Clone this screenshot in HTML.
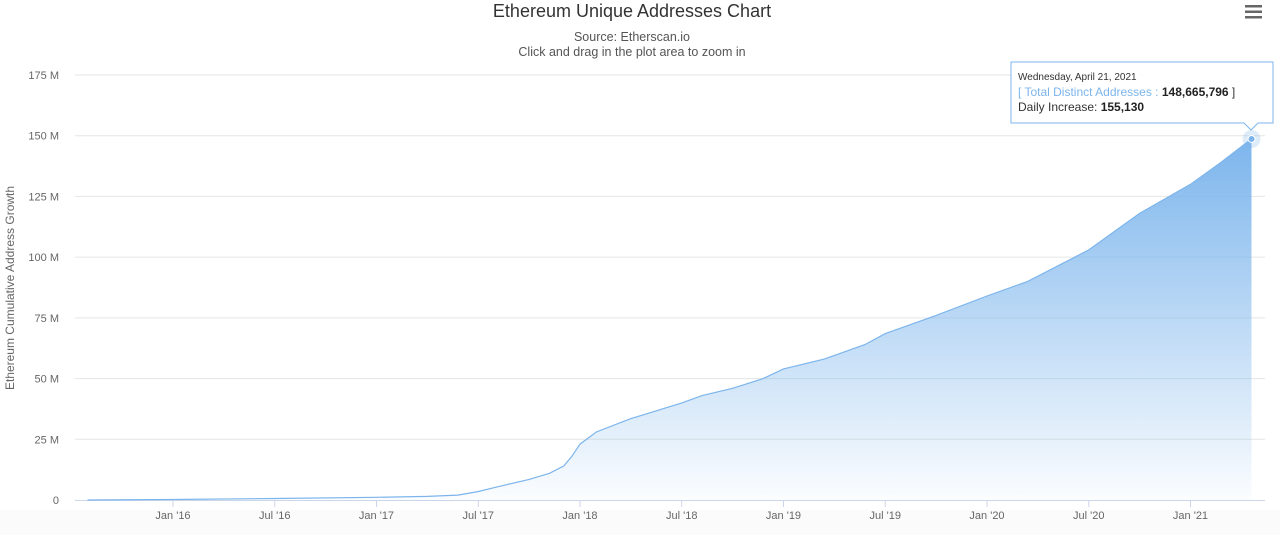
<!DOCTYPE html>
<html><head><meta charset="utf-8">
<style>
body{margin:0;background:#fff;font-family:"Liberation Sans",sans-serif;}
svg{display:block}
</style></head>
<body>
<svg id="chart" width="1280" height="535" viewBox="0 0 1280 535" xmlns="http://www.w3.org/2000/svg">
<defs>
<linearGradient id="fillGrad" x1="0" y1="0" x2="0" y2="1">
<stop offset="0" stop-color="#7cb5ec" stop-opacity="1"/>
<stop offset="1" stop-color="#7cb5ec" stop-opacity="0.03"/>
</linearGradient>
</defs>
<rect x="0" y="510" width="1280" height="25" fill="#fbfbfb"/>
<text x="632" y="17" text-anchor="middle" font-size="18" fill="#333">Ethereum Unique Addresses Chart</text>
<text x="632" y="41" text-anchor="middle" font-size="12.5" fill="#555">Source: Etherscan.io</text>
<text x="632" y="56" text-anchor="middle" font-size="12.5" fill="#555">Click and drag in the plot area to zoom in</text>
<g fill="#666">
<rect x="1245" y="5" width="17" height="2.5"/><rect x="1245" y="10.5" width="17" height="2.5"/><rect x="1245" y="16" width="17" height="2.5"/>
</g>
<g id="grid"></g>
<g id="yaxis"></g>
<g id="xaxis"></g>
<text transform="translate(14,288) rotate(-90)" text-anchor="middle" font-size="12" fill="#666">Ethereum Cumulative Address Growth</text>
<g id="series"></g>
<g>
<path d="M1011,62 H1273 V123 H1258 L1251,130 L1244,123 H1011 Z" fill="#fff" fill-opacity="0.95" stroke="#7cb5ec" stroke-width="1"/>
<text x="1018" y="80" font-size="10" fill="#333">Wednesday, April 21, 2021</text>
<text x="1018" y="96" font-size="12" fill="#333"><tspan fill="#7cb5ec">[ Total Distinct Addresses</tspan><tspan fill="#7cb5ec"> : </tspan><tspan font-weight="bold" fill="#222">148,665,796</tspan> ]</text>
<text x="1018" y="111" font-size="12" fill="#333">Daily Increase: <tspan font-weight="bold" fill="#222">155,130</tspan></text>
</g>
</svg>
<script>
const tickYears = [2016, 2016.5, 2017, 2017.5, 2018, 2018.5, 2019, 2019.5, 2020, 2020.5, 2021];
const tickLabels = ["Jan '16","Jul '16","Jan '17","Jul '17","Jan '18","Jul '18","Jan '19","Jul '19","Jan '20","Jul '20","Jan '21"];
const yTicks = [0, 25, 50, 75, 100, 125, 150, 175];
const yTickLabels = ["0","25 M","50 M","75 M","100 M","125 M","150 M","175 M"];
const dates = [2015.58,2016.0,2016.5,2017.0,2017.25,2017.4,2017.5,2017.6,2017.75,2017.85,2017.92,2017.96,2018.0,2018.08,2018.25,2018.5,2018.6,2018.75,2018.9,2019.0,2019.2,2019.4,2019.5,2019.75,2020.0,2020.2,2020.5,2020.75,2021.0,2021.15,2021.3];
const values = [0,0.2,0.6,1.1,1.5,2,3.5,5.5,8.5,11,14,18,23,28,33.5,40,43,46,50,54,58,64,68.5,76,84,90,103,118,130,139,148.67];
const NS="http://www.w3.org/2000/svg";
const x = d => 173 + (d-2016)*203.5;
const y = v => 500 - v*(425/175);
const L=75, R=1265;
const grid=document.getElementById('grid'), ya=document.getElementById('yaxis'), xa=document.getElementById('xaxis'), ser=document.getElementById('series');
function mk(t,a,p){const e=document.createElementNS(NS,t);for(const k in a)e.setAttribute(k,a[k]);p.appendChild(e);return e;}
yTicks.forEach((v,i)=>{
  if(v>0){const g=mk('line',{x1:L,x2:R,y1:y(v),y2:y(v),stroke:'#e6e6e6'},grid);
  
  }
  const t=mk('text',{x:59,y:y(v)+4,'text-anchor':'end','font-size':11,fill:'#666'},ya);
  t.textContent=yTickLabels[i];
  
  
});
const ax=mk('line',{x1:L,x2:R,y1:500.5,y2:500.5,stroke:'#ccd6eb'},xa);


tickYears.forEach((d,i)=>{
  const tk=mk('line',{x1:x(d),x2:x(d),y1:500,y2:507,stroke:'#ccd6eb'},xa);
  
  
  const t=mk('text',{x:x(d),y:519,'text-anchor':'middle','font-size':11,fill:'#666'},xa);
  t.textContent=tickLabels[i];
  
  
});
let line='';
dates.forEach((d,i)=>{line+=(i?'L':'M')+x(d).toFixed(1)+','+y(values[i]).toFixed(1);});
const area=mk('path',{d:line+'L'+x(dates[dates.length-1]).toFixed(1)+',500L'+x(dates[0]).toFixed(1)+',500Z',fill:'url(#fillGrad)'},ser);


const ln=mk('path',{d:line,fill:'none',stroke:'#7cb5ec','stroke-width':1.2},ser);


const li=dates.length-1;
const halo=mk('circle',{cx:x(dates[li]),cy:y(values[li]),r:9,fill:'#7cb5ec','fill-opacity':0.25},ser);


const pt=mk('circle',{cx:x(dates[li]),cy:y(values[li]),r:3.5,fill:'#7cb5ec',stroke:'#fff','stroke-width':1},ser);


</script>
</body></html>
